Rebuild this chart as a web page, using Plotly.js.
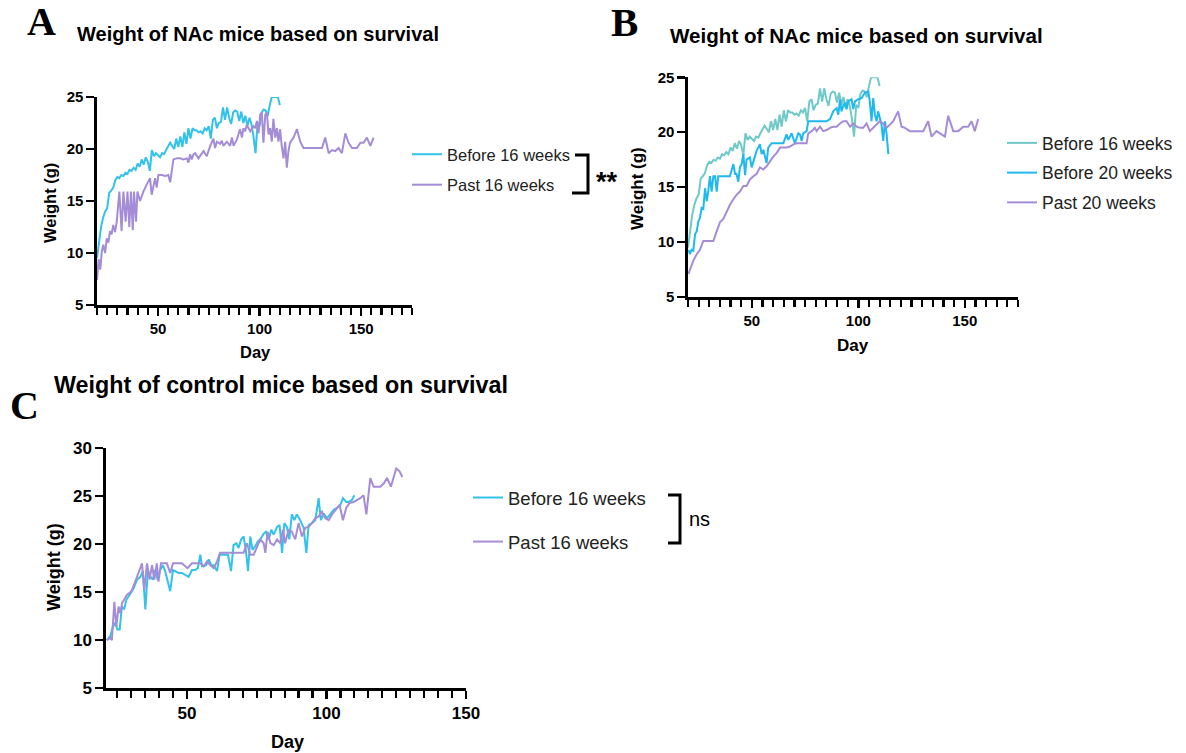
<!DOCTYPE html>
<html><head><meta charset="utf-8">
<script src="https://cdn.plot.ly/plotly-3.0.1.min.js"></script>
<style>html,body{margin:0;padding:0;background:#fff}#chart{width:1186px;height:753px}</style>
</head><body><div id="chart"></div>
<script>
// ---------- Panel A / B : NAc mice, "Before 16 weeks" (same series in A and B) ----------
const nacBefore16Days = [20,21,22,23,24,25,26,27,28,29,30,31,32,33,34,35,36,37,38,39,40,41,42,43,44,45,46,47,48,49,50,51,52,53,54,55,56,57,58,59,60,61,62,63,64,65,66,67,68,69,70,71,72,73,74,75,76,77,78,79,80,81,82,83,84,85,86,87,88,89,90,91,92,93,94,95,96,97,98,99,100,101,102,103,104,105,106,107,108,109,110];
const nacBefore16Weight = [9.5,11.0,12.5,13.4,14.0,14.3,15.8,16.0,16.3,17.0,17.3,17.2,17.5,17.4,17.7,17.6,18.0,17.9,18.2,18.0,18.6,18.3,19.0,18.5,19.2,18.8,17.9,19.9,19.3,19.6,19.4,19.2,19.6,19.5,19.9,20.2,20.6,20.3,20.0,21.0,20.2,21.2,20.2,21.6,20.5,22.0,21.0,22.0,21.8,21.8,21.6,21.7,21.5,22.0,21.8,22.2,21.0,22.8,23.0,22.0,22.5,22.6,24.0,22.8,24.0,23.0,22.4,23.5,23.7,23.6,22.7,23.6,22.5,23.2,22.2,23.0,22.4,21.2,19.6,22.5,22.2,23.5,23.8,23.7,23.2,24.2,25.0,25.0,25.0,25.0,24.2];

// ---------- Panel A : NAc mice, "Past 16 weeks" ----------
const nacPast16Days = [20,20.8,21.6,22.4,23.1,24,24.8,25.6,26.4,27.2,28,28.9,29.7,31,32.1,33,34.1,35,35.9,36.7,37.6,38.2,39.2,39.9,41.2,42.8,44.5,46.1,46.9,48.6,49.4,50.2,51.9,53.5,55.1,56,57.6,59.3,60.9,62.5,64.2,65,65.8,66.6,67.5,68.3,69.9,71.6,72.4,74,74.8,75.7,77.3,78.1,79,80.6,81.4,82.2,83.9,85.5,86.4,87.2,88.8,90.4,91.3,92.1,92.9,93.7,95.4,97,97.8,98.7,99.5,100.3,101.1,101.9,102.8,103.6,104.4,105.2,106,106.8,107.7,108.5,109.3,110.1,110.9,111.8,112.6,113.4,114.2,115,116.7,118.4,120,121.6,125,128.2,130.7,132.3,134,135.6,137.2,138.9,140.5,142.2,143.8,145.5,147.9,149.6,151.2,152.8,154.5,156.1];
const nacPast16Weight = [7.4,9.4,8.4,10.2,10.8,10.0,11.4,11.0,12.1,11.8,12.7,12.0,13.0,15.9,12.1,15.9,13.0,15.9,12.5,15.9,12.2,15.9,13.0,15.9,15.0,15.9,16.6,17.2,15.6,17.2,16.3,17.5,17.5,17.4,17.5,16.8,19.0,19.1,19.1,19.0,19.1,18.7,19.5,19.0,19.5,19.6,19.1,19.6,19.8,19.3,19.9,20.3,21.0,20.1,20.7,20.5,20.8,20.3,20.7,20.3,21.1,20.3,20.9,21.9,21.1,22.0,21.7,22.3,21.7,22.2,22.0,22.7,21.5,23.3,23.5,20.6,23.3,23.5,21.4,22.0,20.7,22.9,21.1,22.0,20.7,21.9,20.3,19.1,20.7,18.2,19.8,20.6,21.1,21.9,20.7,20.1,20.1,20.1,20.1,21.1,19.6,19.9,19.8,20.1,19.6,21.5,20.6,20.1,20.1,20.6,20.6,21.1,20.3,21.1];

// ---------- Panel B : "Before 20 weeks" ----------
const nacBefore20Days = [20.2,20.9,21.7,22.5,23.3,24.1,24.9,25.6,26.4,27.2,28.0,28.8,29.5,30.3,31.1,31.9,32.7,33.5,34.2,35.0,36.6,38.2,39.7,41.3,42.1,42.8,43.6,44.4,45.2,46.0,46.8,47.5,49.1,49.9,51.5,52.2,53.8,54.6,55.4,56.9,57.7,59.3,61.6,64.8,66.3,67.1,68.7,70.2,71.8,72.6,73.4,74.1,75.7,76.5,80.4,85.1,86.7,88.2,89.8,90.6,91.4,92.1,92.9,93.7,94.5,95.3,96.8,97.6,98.4,100.0,101.5,103.1,104.7,105.4,106.2,107.0,107.8,108.6,109.3,110.1,110.9,111.7,112.5,113.3,114.1];
const nacBefore20Weight = [9.3,8.9,9.3,9.2,10.7,11.0,11.9,12.2,13.1,13.0,14.9,13.7,14.6,16.0,14.6,16.0,16.0,14.6,16.0,16.0,16.0,16.0,16.0,17.1,16.2,16.2,15.5,16.8,17.1,18.0,16.1,17.5,17.7,16.8,17.8,18.3,18.9,18.0,18.4,17.2,18.6,19.0,19.0,19.0,19.8,19.3,19.9,19.0,19.9,19.8,19.2,19.9,20.1,21.0,21.0,21.0,21.2,21.9,22.2,21.6,23.0,21.9,22.4,22.7,22.1,22.8,23.0,22.1,22.8,23.0,23.1,23.6,23.7,22.8,21.0,23.1,21.6,21.0,21.9,21.2,20.7,19.2,21.0,19.8,18.0];

// ---------- Panel B : "Past 20 weeks" ----------
const nacPast20Days = [20.2,22.5,24.1,25.6,27.2,28.8,30.3,31.9,33.5,35.0,36.6,38.2,39.7,41.3,42.8,44.4,46.0,47.5,49.1,50.7,52.2,53.8,55.4,56.9,58.5,60.1,61.6,63.2,64.8,66.3,67.9,69.5,71.0,72.6,74.1,75.7,76.5,78.1,79.6,80.4,82.0,83.5,85.1,86.7,88.2,89.8,91.4,92.9,94.5,96.1,97.6,99.2,100.8,102.3,103.9,105.4,107.0,108.6,110.1,111.7,113.3,114.9,116.4,118.7,120.3,121.9,124.2,127.4,130.5,132.8,134.4,136.7,138.3,140.7,142.2,144.6,146.9,149.3,151.6,153.2,154.7,156.3];
const nacPast20Weight = [7.1,8.3,8.9,9.3,10.1,10.1,10.1,10.1,11.0,11.8,12.1,12.8,13.4,13.9,14.3,14.6,15.1,15.1,15.7,16.0,16.2,16.8,16.6,16.9,17.4,17.8,18.1,18.6,18.6,18.6,18.7,18.9,19.0,19.0,19.0,19.0,19.9,20.1,20.4,20.1,20.5,20.1,20.2,20.4,20.5,20.5,20.8,21.0,21.0,20.5,20.8,20.5,20.4,20.4,20.8,20.1,20.4,20.7,21.0,20.8,20.4,20.7,21.0,21.9,20.5,20.4,20.1,20.1,20.1,21.0,19.6,20.1,19.9,19.6,21.5,20.1,20.1,20.5,20.5,21.0,20.1,21.2];

// ---------- Panel C : control mice ----------
const ctrlBefore16Days = [21.3,22.5,23.5,24.3,25.1,25.9,26.7,27.5,28.3,29.1,29.9,30.9,32.1,33.3,34.2,35.1,36.0,36.9,37.8,38.6,39.5,40.4,41.4,42.2,44.0,45.0,45.8,47.0,48.2,49.4,50.6,51.8,53.0,53.9,54.8,55.4,56.0,56.9,57.8,58.7,59.6,60.8,61.7,62.5,63.7,64.7,65.8,66.7,67.7,68.5,69.4,70.3,71.1,71.9,72.7,73.5,74.5,75.4,76.3,77.5,78.3,79.3,80.2,81.1,82.3,83.2,84.1,84.9,85.8,86.7,87.6,88.5,89.4,90.6,91.8,92.8,93.6,94.8,96.0,97.2,98.0,99.0,100.2,101.4,102.6,103.8,105.0,105.9,107.1,107.9,109.1,110.0];
const ctrlBefore16Weight = [10.0,10.4,11.4,11.8,11.1,11.1,13.5,13.2,14.2,14.5,14.9,15.4,16.3,16.6,17.2,13.2,17.3,16.6,16.3,17.3,16.3,17.3,17.8,17.2,15.1,17.3,17.2,17.0,17.0,16.8,16.6,17.3,17.3,17.5,18.9,17.7,17.7,17.8,18.4,17.8,17.8,17.2,18.9,18.9,18.9,18.9,17.2,19.9,20.1,19.6,20.5,20.8,19.4,17.2,20.8,19.4,19.8,20.3,20.5,21.1,21.3,20.5,21.5,21.0,21.8,22.0,19.1,22.2,21.8,20.5,23.1,22.5,23.1,22.5,21.7,19.1,22.0,22.2,22.5,24.8,22.5,23.2,22.7,23.1,23.6,23.8,24.1,24.8,24.4,24.4,24.6,25.1];
const ctrlPast16Days = [21.3,22.5,23.1,24.0,24.7,25.5,26.1,26.8,27.5,28.5,29.4,30.3,31.2,32.1,33.0,33.9,34.7,35.7,36.6,37.5,38.3,39.2,39.8,40.7,41.6,42.8,44.0,45.0,46.4,48.2,50.2,51.8,53.6,54.8,56.0,57.2,58.4,59.6,60.8,61.9,63.1,65.5,67.9,70.3,71.5,72.7,73.9,75.1,76.3,77.5,78.1,78.9,79.9,81.1,82.3,83.5,84.4,85.2,86.4,87.6,88.8,90.0,91.2,92.4,93.6,94.8,96.0,97.2,98.4,99.6,100.8,102.0,103.2,104.7,105.9,107.1,108.3,109.7,110.9,112.1,113.3,114.3,115.7,116.9,118.1,119.3,120.7,121.7,123.1,124.1,125.0,126.2,127.2];
const ctrlPast16Weight = [10.0,10.2,10.0,14.0,11.4,13.5,12.8,13.9,14.2,14.7,14.9,15.2,15.9,16.6,17.3,18.0,15.2,18.0,16.3,17.8,16.3,18.0,16.1,18.0,18.0,18.0,17.0,18.0,18.0,18.0,17.5,18.0,18.0,18.0,17.7,18.2,17.8,17.5,18.2,19.1,19.1,19.1,19.1,19.1,20.1,18.9,18.9,19.8,20.5,20.1,19.1,21.3,20.1,19.9,20.5,20.1,21.5,20.1,21.5,21.3,20.5,22.2,20.8,21.7,21.8,22.2,22.7,22.9,23.4,22.7,22.5,23.1,23.6,24.1,22.5,23.8,24.3,24.4,24.6,24.8,25.1,23.1,26.9,26.0,26.0,26.0,26.4,26.9,26.0,27.0,27.9,27.6,27.0];

// ---------- labels ----------
const seriesNames = {before16: 'Before 16 weeks', past16: 'Past 16 weeks', before20: 'Before 20 weeks', past20: 'Past 20 weeks'};
const titleNAc = 'Weight of NAc mice based on survival';
const titleCtrl = 'Weight of control mice based on survival';
const xTitle = 'Day', yTitle = 'Weight (g)';

const W = 1186, H = 753;
const px = x => x / W, py = y => 1 - y / H;
const SANS = 'Liberation Sans, Arial, sans-serif';
const SERIF = 'Liberation Serif, Times New Roman, serif';
const C_CYAN = '#33C2EA', C_PURPLE = '#A58CD7', C_TEAL = '#6FC9C9', C_BLUE = '#1FB9EF';

function tr(x, y, name, color, xa, ya, legend, group) {
  return {x, y, name, type: 'scatter', mode: 'lines', xaxis: xa, yaxis: ya,
    line: {color, width: 2}, legend, legendgroup: group, hoverinfo: 'skip'};
}
const data = [
  tr(nacBefore16Days, nacBefore16Weight, seriesNames.before16, C_CYAN, 'x', 'y', 'legend', 'a1'),
  tr(nacPast16Days, nacPast16Weight, seriesNames.past16, C_PURPLE, 'x', 'y', 'legend', 'a2'),
  tr(nacBefore16Days, nacBefore16Weight, seriesNames.before16, C_TEAL, 'x2', 'y2', 'legend2', 'b1'),
  tr(nacBefore20Days, nacBefore20Weight, seriesNames.before20, C_BLUE, 'x2', 'y2', 'legend2', 'b2'),
  tr(nacPast20Days, nacPast20Weight, seriesNames.past20, C_PURPLE, 'x2', 'y2', 'legend2', 'b3'),
  tr(ctrlBefore16Days, ctrlBefore16Weight, seriesNames.before16, C_CYAN, 'x3', 'y3', 'legend3', 'c1'),
  tr(ctrlPast16Days, ctrlPast16Weight, seriesNames.past16, C_PURPLE, 'x3', 'y3', 'legend3', 'c2')
];

function xax(x0, x1, range, anchor, fs) {
  return {domain: [px(x0), px(x1)], range, anchor, showline: true, linewidth: 2.6, linecolor: '#000',
    ticks: 'outside', ticklen: 8, tickwidth: 2.4, tickcolor: '#000', tick0: 0, dtick: 50,
    showgrid: false, zeroline: false, fixedrange: true,
    tickfont: {family: SANS, size: fs, color: '#000', weight: 'bold'},
    minor: {ticks: 'outside', dtick: 5, tick0: 0, ticklen: 7, tickwidth: 2.2, tickcolor: '#000', showgrid: false}};
}
function yax(y0, y1, range, anchor, fs) {
  return {domain: [py(y1), py(y0)], range, anchor, showline: true, linewidth: 2.6, linecolor: '#000',
    ticks: 'outside', ticklen: 8, tickwidth: 2.4, tickcolor: '#000', tick0: 0, dtick: 5,
    showgrid: false, zeroline: false, fixedrange: true,
    tickfont: {family: SANS, size: fs, color: '#000', weight: 'bold'}};
}
function leg(x, y, fs, gap) {
  return {x: px(x), y: py(y), xanchor: 'left', yanchor: 'top', bgcolor: 'rgba(0,0,0,0)', borderwidth: 0,
    font: {family: SANS, size: fs, color: '#222'}, traceorder: 'grouped', tracegroupgap: gap, itemclick: false, itemdoubleclick: false};
}
function ann(text, x, y, size, opts) {
  return Object.assign({text, x: px(x), y: py(y), xref: 'paper', yref: 'paper', showarrow: false,
    xanchor: 'center', yanchor: 'middle', font: {family: SANS, size, color: '#000'}}, opts || {});
}

const annotations = [
  ann('<b>A</b>', 41, 22, 40, {font: {family: SERIF, size: 40, color: '#000'}}),
  ann('<b>B</b>', 624, 22, 41, {font: {family: SERIF, size: 41, color: '#000'}}),
  ann('<b>C</b>', 24, 405, 40, {font: {family: SERIF, size: 40, color: '#000'}}),
  ann('<b>' + titleNAc + '</b>', 75, 34, 20, {xanchor: 'left'}),
  ann('<b>' + titleNAc + '</b>', 668, 36, 20.6, {xanchor: 'left'}),
  ann('<b>' + titleCtrl + '</b>', 52, 385, 23.3, {xanchor: 'left'}),
  ann('<b>' + yTitle + '</b>', 50, 203, 16.5, {textangle: -90}),
  ann('<b>' + xTitle + '</b>', 255, 352, 16.5),
  ann('<b>' + yTitle + '</b>', 637, 189, 17, {textangle: -90}),
  ann('<b>' + xTitle + '</b>', 853, 345, 17),
  ann('<b>' + yTitle + '</b>', 54, 567, 18, {textangle: -90}),
  ann('<b>' + xTitle + '</b>', 287, 742, 18),
  ann('<b>**</b>', 607, 182, 27),
  ann('ns', 699, 519, 20)
];

function pathPx(pts) {
  return pts.map((p, i) => (i ? 'L' : 'M') + px(p[0]).toFixed(5) + ',' + py(p[1]).toFixed(5)).join(' ');
}
const shapes = [
  {type: 'path', xref: 'paper', yref: 'paper', path: pathPx([[575,155],[588,155],[588,193],[572,193]]), line: {color: '#000', width: 3}},
  {type: 'path', xref: 'paper', yref: 'paper', path: pathPx([[668,495],[680,495],[680,543],[668,543]]), line: {color: '#000', width: 3}}
];

const layout = {
  width: W, height: H, autosize: false, margin: {l: 0, r: 0, t: 0, b: 0},
  paper_bgcolor: '#fff', plot_bgcolor: '#fff', showlegend: true,
  xaxis: xax(97, 412, [20, 175], 'y', 15),
  yaxis: yax(97, 305, [5, 25], 'x', 15),
  xaxis2: xax(688, 1018, [20, 175], 'y2', 15),
  yaxis2: yax(77.3, 297, [5, 25], 'x2', 15),
  xaxis3: xax(106, 466, [21, 150], 'y3', 17),
  yaxis3: yax(448.3, 688, [5, 30], 'x3', 17),
  legend: leg(407, 137, 16.5, 6),
  legend2: leg(1002, 125, 17.5, 4),
  legend3: leg(468, 479, 18.5, 17),
  annotations, shapes
};
Plotly.newPlot('chart', data, layout, {staticPlot: true, displayModeBar: false});
</script>
</body></html>
